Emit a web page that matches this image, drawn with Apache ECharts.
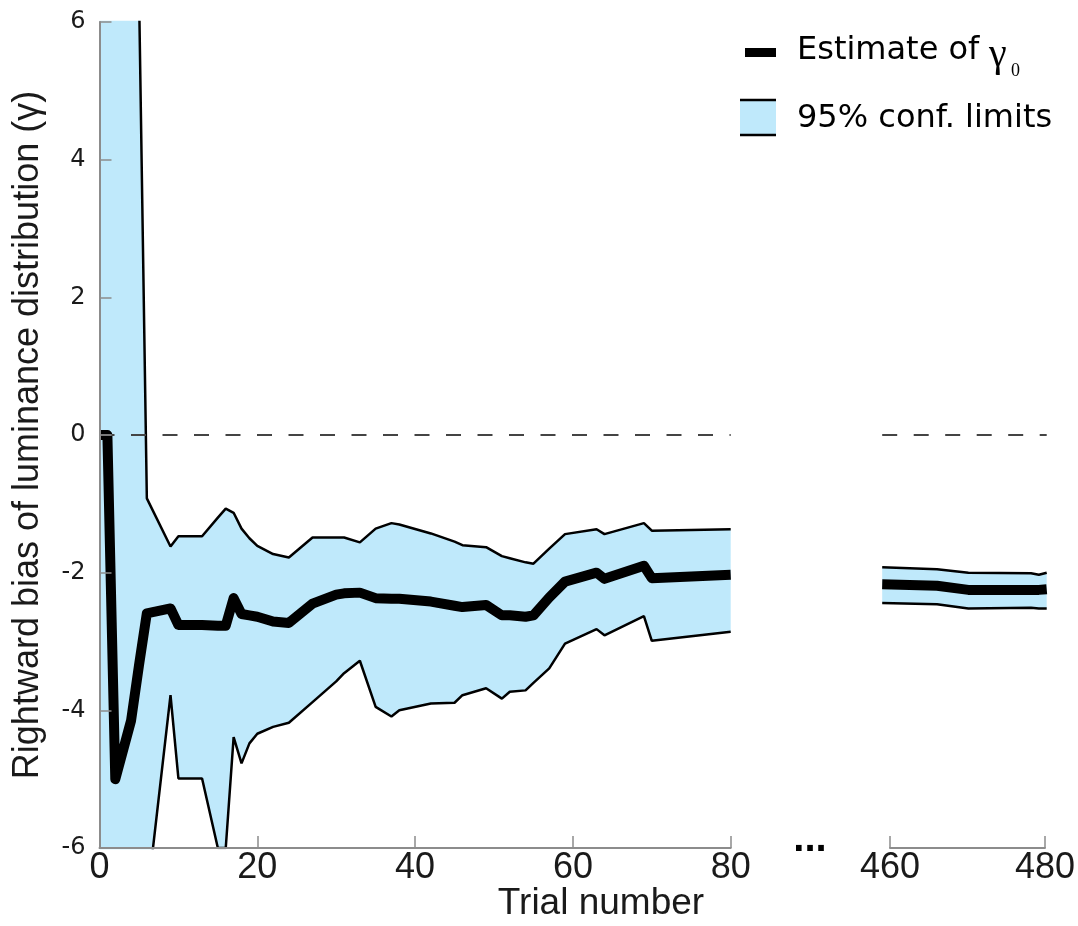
<!DOCTYPE html>
<html>
<head>
<meta charset="utf-8">
<title>Rightward bias estimate</title>
<script src="https://cdn.jsdelivr.net/npm/echarts@6/dist/echarts.min.js"></script>
<style>
  html, body { margin: 0; padding: 0; background: #fff; }
  #chart { width: 1078px; height: 926px; }
</style>
</head>
<body>
<div id="chart"></div>
<script>
// trials 0..80 (first block)
const trialsEarly = [0, 1, 2, 4, 5, 6, 9, 10, 13, 15, 16, 17, 18, 19, 20, 22, 24, 27, 30, 31, 33, 35, 37, 38, 42, 45, 46, 49, 51, 52, 54, 55, 57, 59, 63, 64, 69, 70, 80];
const estimateEarly = [0, 0, -5.0, -4.15, -3.35, -2.59, -2.52, -2.76, -2.76, -2.77, -2.77, -2.37, -2.6, -2.62, -2.64, -2.71, -2.73, -2.45, -2.32, -2.3, -2.29, -2.37, -2.38, -2.38, -2.42, -2.48, -2.5, -2.47, -2.62, -2.62, -2.64, -2.62, -2.36, -2.13, -2.0, -2.09, -1.9, -2.08, -2.03];
const upperEarly = [12, 12, 12, 10, 6.5, -0.92, -1.62, -1.47, -1.47, -1.2, -1.07, -1.13, -1.36, -1.5, -1.61, -1.73, -1.78, -1.49, -1.49, -1.49, -1.56, -1.36, -1.28, -1.3, -1.43, -1.55, -1.6, -1.63, -1.76, -1.79, -1.85, -1.87, -1.65, -1.44, -1.37, -1.44, -1.28, -1.39, -1.37];
const lowerEarly = [-12, -12, -12, -10, -8, -6.78, -3.78, -4.99, -4.99, -6.0, -6.0, -4.39, -4.77, -4.48, -4.34, -4.24, -4.18, -3.88, -3.58, -3.46, -3.28, -3.95, -4.09, -4.0, -3.9, -3.89, -3.78, -3.68, -3.83, -3.73, -3.71, -3.6, -3.39, -3.03, -2.82, -2.91, -2.63, -2.99, -2.86];

// trials 459..480 (second block)
const trialsLate = [459, 466, 470, 478, 479, 480];
const estimateLate = [-2.17, -2.19, -2.25, -2.25, -2.25, -2.24];
const upperLate = [-1.92, -1.95, -2.0, -2.01, -2.03, -2.0];
const lowerLate = [-2.44, -2.46, -2.52, -2.51, -2.52, -2.52];

const xTicksEarly = [0, 20, 40, 60, 80];
const xTicksLate = [460, 480];
const yTicks = [-6, -4, -2, 0, 2, 4, 6];

const BAND = '#bfe9fb';
const AXIS = '#8c8c8c';
const TEXT = '#1a1a1a';
const NARROW = "'Liberation Sans Narrow', 'Arial Narrow', 'Liberation Sans', Arial";

// value first, trial second, so that stacking works on the y values
const rows = (xs, ys) => xs.map((x, i) => [ys[i], x]);
const spread = (hi, lo) => hi.map((v, i) => +(v - lo[i]).toFixed(3));

const chart = echarts.init(document.getElementById('chart'));

const grids = [
  { left: 99.5, top: 22, width: 631.2, height: 826 },
  { left: 882.2, top: 22, width: 164.5, height: 826 },
  { left: 890, top: 22, width: 156.7, height: 826 }
];

const yBase = { type: 'value', min: yTicks[0], max: yTicks[yTicks.length - 1], interval: 2 };

const xAxisLine = { onZero: false, lineStyle: { color: AXIS, width: 2 } };
const xAxisTick = { inside: true, length: 12, lineStyle: { color: AXIS, width: 1.5 } };
const xAxisLabel = { color: TEXT, fontSize: 36, fontFamily: NARROW, margin: 2 };

const bandSeries = (xi, xs, lo, hi, est, stackName) => [
  {
    type: 'line',
    xAxisIndex: xi,
    yAxisIndex: xi,
    stack: stackName,
    stackStrategy: 'all',
    data: rows(xs, lo),
    encode: { x: 1, y: 0 },
    showSymbol: false,
    lineStyle: { color: '#000', width: 2.5 },
    z: 3
  },
  {
    type: 'line',
    xAxisIndex: xi,
    yAxisIndex: xi,
    stack: stackName,
    stackStrategy: 'all',
    data: rows(xs, spread(hi, lo)),
    encode: { x: 1, y: 0 },
    showSymbol: false,
    lineStyle: { color: '#000', width: 2.5 },
    areaStyle: { color: BAND, opacity: 1 },
    z: 2
  },
  {
    type: 'line',
    xAxisIndex: xi,
    yAxisIndex: xi,
    data: rows(xs, est),
    encode: { x: 1, y: 0 },
    showSymbol: false,
    lineStyle: { color: '#000', width: 10, join: 'round' },
    z: 4,
    markLine: {
      silent: true,
      symbol: 'none',
      label: { show: false },
      lineStyle: { color: '#444', width: 2, type: [15, 16.5] },
      data: [{ yAxis: 0 }]
    }
  }
];

chart.setOption({
  animation: false,
  grid: grids,
  xAxis: [
    {
      gridIndex: 0,
      type: 'value',
      min: xTicksEarly[0],
      max: xTicksEarly[xTicksEarly.length - 1],
      interval: 20,
      axisLine: xAxisLine,
      axisTick: xAxisTick,
      axisLabel: xAxisLabel,
      splitLine: { show: false },
      z: 5
    },
    {
      gridIndex: 1,
      type: 'value',
      min: trialsLate[0],
      max: xTicksLate[1],
      show: false
    },
    {
      gridIndex: 2,
      type: 'value',
      min: xTicksLate[0],
      max: xTicksLate[1],
      interval: 20,
      axisLine: xAxisLine,
      axisTick: xAxisTick,
      axisLabel: xAxisLabel,
      splitLine: { show: false },
      z: 5
    }
  ],
  yAxis: [
    Object.assign({}, yBase, {
      gridIndex: 0,
      axisLine: { show: true, onZero: false, lineStyle: { color: AXIS, width: 2 } },
      axisTick: { show: true, inside: true, length: 12, lineStyle: { color: AXIS, width: 1.5 } },
      axisLabel: { color: TEXT, fontSize: 24, fontFamily: "'DejaVu Sans', sans-serif", margin: 14 },
      splitLine: { show: false },
      z: 5
    }),
    Object.assign({}, yBase, { gridIndex: 1, show: false }),
    Object.assign({}, yBase, { gridIndex: 2, show: false })
  ],
  series: [
    ...bandSeries(0, trialsEarly, lowerEarly, upperEarly, estimateEarly, 'early'),
    ...bandSeries(1, trialsLate, lowerLate, upperLate, estimateLate, 'late')
  ],
  graphic: [
    // axis titles
    {
      type: 'text',
      x: 28,
      y: 435,
      rotation: Math.PI / 2,
      style: {
        text: 'Rightward bias of luminance distribution (γ)',
        fill: TEXT,
        fontSize: 36,
        fontFamily: "'Liberation Sans', Arial, sans-serif",
        align: 'center',
        verticalAlign: 'middle'
      }
    },
    {
      type: 'text',
      x: 601,
      y: 904,
      style: {
        text: 'Trial number',
        fill: TEXT,
        fontSize: 37,
        fontFamily: NARROW,
        align: 'center',
        verticalAlign: 'middle'
      }
    },
    // axis break marker
    {
      type: 'text',
      x: 810,
      y: 840,
      style: {
        text: '...',
        fill: '#000',
        font: "bold 40px 'Liberation Sans', Arial",
        align: 'center',
        verticalAlign: 'middle'
      }
    },
    // legend
    { type: 'line', shape: { x1: 745, y1: 52.5, x2: 776, y2: 52.5 }, style: { stroke: '#000', lineWidth: 9 } },
    { type: 'rect', shape: { x: 740, y: 100, width: 36, height: 35 }, style: { fill: BAND } },
    { type: 'line', shape: { x1: 740, y1: 100, x2: 776, y2: 100 }, style: { stroke: '#000', lineWidth: 2.5 } },
    { type: 'line', shape: { x1: 740, y1: 135, x2: 776, y2: 135 }, style: { stroke: '#000', lineWidth: 2.5 } },
    {
      type: 'text',
      x: 797,
      y: 51,
      style: { text: 'Estimate of', fill: '#000', fontSize: 32, fontFamily: "'DejaVu Sans', sans-serif", align: 'left', verticalAlign: 'middle' }
    },
    {
      type: 'text',
      x: 989,
      y: 55,
      style: { text: 'γ', fill: '#000', fontSize: 40, fontFamily: "'Liberation Serif', 'DejaVu Serif', serif", align: 'left', verticalAlign: 'middle' }
    },
    {
      type: 'text',
      x: 1011,
      y: 71,
      style: { text: '0', fill: '#000', fontSize: 18, fontFamily: "'Liberation Serif', 'DejaVu Serif', serif", align: 'left', verticalAlign: 'middle' }
    },
    {
      type: 'text',
      x: 797,
      y: 119,
      style: { text: '95% conf. limits', fill: '#000', fontSize: 32, fontFamily: "'DejaVu Sans', sans-serif", align: 'left', verticalAlign: 'middle' }
    }
  ]
});
</script>
</body>
</html>
